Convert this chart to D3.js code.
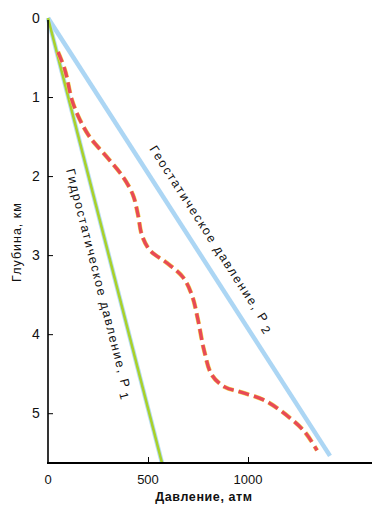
<!DOCTYPE html>
<html>
<head>
<meta charset="utf-8">
<script src="https://d3js.org/d3.v7.min.js"></script>
<style>
  body { margin: 0; background: #fff; }
  text { font-family: "Liberation Sans", Arial, sans-serif; fill: #111; }
</style>
</head>
<body>
<svg id="chart"></svg>
<script>
  var width = 372;
  var height = 507;

  // pressure (atm) vs depth (km)
  var hydroPressure = [0, 570];
  var hydroDepth = [0, 5.63];
  var geoPressure = [0, 1410];
  var geoDepth = [0, 5.54];
  var porePressure = [50, 85, 120, 160, 210, 295, 375, 425, 450, 470, 510, 595, 675, 720, 750, 780, 820, 885, 960, 1085, 1210, 1285, 1345];
  var poreDepth = [0.43, 0.66, 1.04, 1.29, 1.51, 1.76, 2.01, 2.24, 2.49, 2.75, 2.94, 3.10, 3.28, 3.51, 3.82, 4.20, 4.52, 4.67, 4.73, 4.84, 5.06, 5.24, 5.47];
  var xTicks = [500, 1000];
  var yTicks = [1, 2, 3, 4, 5];

  var svg = d3.select("#chart")
    .attr("width", width)
    .attr("height", height);

  var x = d3.scaleLinear().domain([0, 1620]).range([48, 372]);
  var y = d3.scaleLinear().domain([0, 5.63]).range([18, 463]);

  var line = d3.line().x(d => x(d[0])).y(d => y(d[1]));
  var curve = d3.line().x(d => x(d[0])).y(d => y(d[1])).curve(d3.curveCatmullRom);

  var hydro = d3.zip(hydroPressure, hydroDepth);
  var geo = d3.zip(geoPressure, geoDepth);
  var pore = d3.zip(porePressure, poreDepth);

  // geostatic
  svg.append("path").attr("d", line(geo))
    .attr("fill", "none").attr("stroke", "#acd6f4").attr("stroke-width", 4.5);

  // hydrostatic
  svg.append("path").attr("d", line(hydro))
    .attr("fill", "none").attr("stroke", "#b5dcf2").attr("stroke-width", 4.5);
  svg.append("path").attr("d", line(hydro))
    .attr("fill", "none").attr("stroke", "#a9d12a").attr("stroke-width", 2.6);

  // pore pressure, dashed
  svg.append("path").attr("d", curve(pore))
    .attr("fill", "none").attr("stroke", "#f0dc50").attr("stroke-width", 4.4)
    .attr("stroke-dasharray", "11,5");
  svg.append("path").attr("d", curve(pore))
    .attr("fill", "none").attr("stroke", "#e84a57").attr("stroke-width", 3.4)
    .attr("stroke-dasharray", "11,5");

  // axes
  svg.append("g")
    .attr("transform", "translate(" + x(0) + ",0)")
    .call(d3.axisRight(y).tickValues(yTicks).tickSize(5).tickFormat(""))
    .call(g => g.select(".domain").attr("d", "M0," + (y(0) + 2) + "V" + y.range()[1]).attr("stroke-width", 1.6));

  svg.append("g")
    .attr("transform", "translate(0," + y.range()[1] + ")")
    .call(d3.axisTop(x).tickValues(xTicks).tickSize(6).tickFormat(""))
    .call(g => g.select(".domain").attr("d", "M" + (x(0) - 1) + ",0H" + width).attr("stroke-width", 1.8));

  svg.selectAll(".ylab")
    .data([0].concat(yTicks)).enter()
    .append("text")
    .attr("x", 36).attr("y", d => y(d) + 5)
    .attr("text-anchor", "middle")
    .style("font-size", "14px")
    .text(d => d);

  svg.selectAll(".xlab")
    .data([0].concat(xTicks)).enter()
    .append("text")
    .attr("x", d => x(d)).attr("y", 484)
    .attr("text-anchor", "middle")
    .style("font-size", "13px")
    .text(d => d);

  svg.append("text")
    .attr("x", 204).attr("y", 501)
    .attr("text-anchor", "middle")
    .style("font-size", "12.5px").style("font-weight", "bold").style("letter-spacing", "0.6px")
    .text("Давление, атм");

  svg.append("text")
    .attr("transform", "translate(21,242) rotate(-90)")
    .attr("text-anchor", "middle")
    .style("font-size", "12.5px").style("letter-spacing", "1px")
    .text("Глубина, км");

  // line labels
  function angle(p) {
    return Math.atan2(y(p[1][1]) - y(p[0][1]), x(p[1][0]) - x(p[0][0])) * 180 / Math.PI;
  }

  var geoLabel = svg.append("text")
    .attr("transform", "translate(149,149) rotate(" + angle(geo) + ")")
    .style("font-size", "12.5px").style("letter-spacing", "1.7px");
  geoLabel.append("tspan").text("Геостатическое давление, Р");
  geoLabel.append("tspan").attr("dx", 3).attr("dy", 4).style("font-size", "12px").text("2");

  var hydroLabel = svg.append("text")
    .attr("transform", "translate(66,170) rotate(" + angle(hydro) + ")")
    .style("font-size", "12.5px").style("letter-spacing", "1.7px");
  hydroLabel.append("tspan").text("Гидростатическое давление, Р");
  hydroLabel.append("tspan").attr("dx", 3).attr("dy", 4).style("font-size", "12px").text("1");
</script>
</body>
</html>
